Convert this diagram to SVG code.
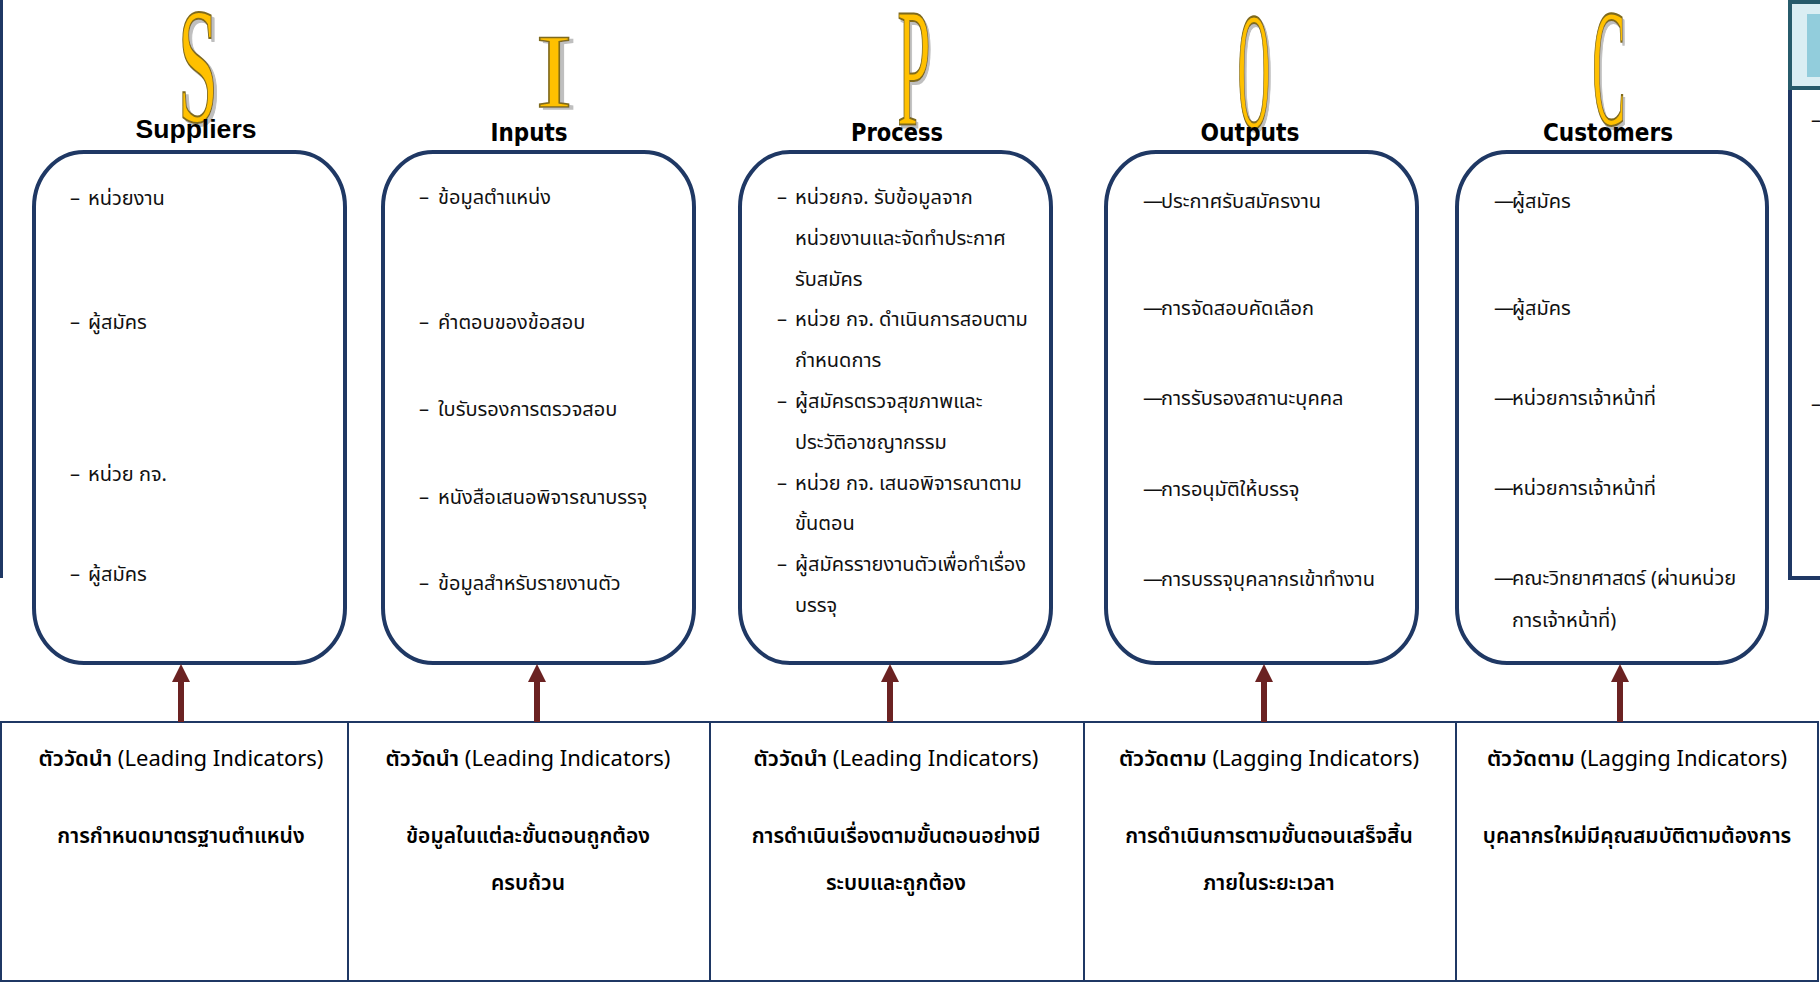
<svg xmlns="http://www.w3.org/2000/svg" width="1820" height="982" viewBox="0 0 1820 982">
<defs>
<style>
.big{font-family:"Liberation Serif","Times New Roman",serif;font-size:100px;fill:#FFC000;stroke:#7F6A1E;stroke-width:1.6px;vector-effect:non-scaling-stroke;text-anchor:middle;filter:url(#shadow)}
.hd{font-family:"DejaVu Sans","Liberation Sans",sans-serif;font-weight:bold;font-size:24px;fill:#000;text-anchor:middle}
.box{fill:#fff;stroke:#1F3864;stroke-width:4}
.it{font-family:"Noto Sans Thai","Tahoma","Noto Sans",sans-serif;font-size:20px;fill:#111}
.tb{fill:#fff;stroke:#1F3864;stroke-width:2}
.th{font-family:"Noto Sans Thai","Open Sans","Noto Sans",sans-serif;font-size:22px;fill:#000;text-anchor:middle}
.tk{font-weight:600}
.td{font-family:"Noto Sans Thai","Noto Sans",sans-serif;font-size:21px;fill:#000;text-anchor:middle;font-weight:600}
.arr{stroke:#6B2222;stroke-width:6;fill:none}
</style>
<filter id="shadow" x="-20%" y="-10%" width="160%" height="130%">
<feOffset in="SourceAlpha" dx="4" dy="2" result="o"/>
<feFlood flood-color="#BFBFBF"/>
<feComposite in2="o" operator="in" result="s"/>
<feMerge><feMergeNode in="s"/><feMergeNode in="SourceGraphic"/></feMerge>
</filter>
<marker id="ah" markerUnits="userSpaceOnUse" markerWidth="20" markerHeight="20" refX="0" refY="9" orient="auto">
<path d="M0,0 L18,9 L0,18 Z" fill="#6B2222"/>
</marker>
</defs>
<rect width="1820" height="982" fill="#fff"/>

<!-- left edge line -->
<rect x="0" y="0" width="3" height="578" fill="#1F3864"/>

<!-- right partial box -->
<g id="right-box">
<rect x="1790" y="2" width="40" height="576" fill="#fff" stroke="#1F3864" stroke-width="4"/>
<rect x="1790" y="2" width="40" height="86" fill="#DAEEF3" stroke="#275B6B" stroke-width="4"/>
<rect x="1807" y="14" width="20" height="63" fill="#92CDDC"/>
<text class="it" x="1811" y="127">–</text>
<text class="it" x="1811" y="411">–</text>
</g>

<!-- big letters -->
<g id="letters">
<text class="big" transform="translate(198,121) scale(0.72,1.66)">S</text>
<text class="big" transform="translate(554,107) scale(1.1,1.05)">I</text>
<text class="big" transform="translate(914,125) scale(0.6,1.7)">P</text>
<text class="big" transform="translate(1254,127) scale(0.45,1.68)">O</text>
<text class="big" transform="translate(1609,124) scale(0.5,1.68)">C</text>
</g>

<!-- Suppliers -->
<g id="suppliers">
<text class="hd" x="196" y="138" style="font-family:'Liberation Sans',Arial,sans-serif;font-size:26px" textLength="121" lengthAdjust="spacingAndGlyphs">Suppliers</text>
<rect class="box" x="34" y="152" width="311" height="511" rx="50" ry="55"/>
<text class="it" x="70" y="205">–</text><text class="it" x="88" y="205">หน่วยงาน</text>
<text class="it" x="70" y="329">–</text><text class="it" x="88" y="329">ผู้สมัคร</text>
<text class="it" x="70" y="481">–</text><text class="it" x="88" y="481">หน่วย กจ.</text>
<text class="it" x="70" y="581">–</text><text class="it" x="88" y="581">ผู้สมัคร</text>
</g>

<!-- Inputs -->
<g id="inputs">
<text class="hd" x="529" y="141" textLength="77" lengthAdjust="spacingAndGlyphs">Inputs</text>
<rect class="box" x="383" y="152" width="311" height="511" rx="50" ry="55"/>
<text class="it" x="419" y="204">–</text><text class="it" x="438" y="204">ข้อมูลตำแหน่ง</text>
<text class="it" x="419" y="329">–</text><text class="it" x="438" y="329">คำตอบของข้อสอบ</text>
<text class="it" x="419" y="416">–</text><text class="it" x="438" y="416">ใบรับรองการตรวจสอบ</text>
<text class="it" x="419" y="504">–</text><text class="it" x="438" y="504">หนังสือเสนอพิจารณาบรรจุ</text>
<text class="it" x="419" y="590">–</text><text class="it" x="438" y="590">ข้อมูลสำหรับรายงานตัว</text>
</g>

<!-- Process -->
<g id="process">
<text class="hd" x="897" y="141" textLength="92" lengthAdjust="spacingAndGlyphs">Process</text>
<rect class="box" x="740" y="152" width="311" height="511" rx="50" ry="55"/>
<text class="it" x="777" y="204">–</text><text class="it" x="795" y="204">หน่วยกจ. รับข้อมูลจาก</text>
<text class="it" x="795" y="245">หน่วยงานและจัดทำประกาศ</text>
<text class="it" x="795" y="286">รับสมัคร</text>
<text class="it" x="777" y="326">–</text><text class="it" x="795" y="326">หน่วย กจ. ดำเนินการสอบตาม</text>
<text class="it" x="795" y="367">กำหนดการ</text>
<text class="it" x="777" y="408">–</text><text class="it" x="795" y="408">ผู้สมัครตรวจสุขภาพและ</text>
<text class="it" x="795" y="449">ประวัติอาชญากรรม</text>
<text class="it" x="777" y="490">–</text><text class="it" x="795" y="490">หน่วย กจ. เสนอพิจารณาตาม</text>
<text class="it" x="795" y="530">ขั้นตอน</text>
<text class="it" x="777" y="571">–</text><text class="it" x="795" y="571">ผู้สมัครรายงานตัวเพื่อทำเรื่อง</text>
<text class="it" x="795" y="612">บรรจุ</text>
</g>

<!-- Outputs -->
<g id="outputs">
<text class="hd" x="1250" y="141" textLength="99" lengthAdjust="spacingAndGlyphs">Outputs</text>
<rect class="box" x="1106" y="152" width="311" height="511" rx="50" ry="55"/>
<text class="it" x="1143" y="208">—</text><text class="it" x="1161" y="208">ประกาศรับสมัครงาน</text>
<text class="it" x="1143" y="315">—</text><text class="it" x="1161" y="315">การจัดสอบคัดเลือก</text>
<text class="it" x="1143" y="405">—</text><text class="it" x="1161" y="405">การรับรองสถานะบุคคล</text>
<text class="it" x="1143" y="496">—</text><text class="it" x="1161" y="496">การอนุมัติให้บรรจุ</text>
<text class="it" x="1143" y="586">—</text><text class="it" x="1161" y="586">การบรรจุบุคลากรเข้าทำงาน</text>
</g>

<!-- Customers -->
<g id="customers">
<text class="hd" x="1608" y="141" textLength="130" lengthAdjust="spacingAndGlyphs">Customers</text>
<rect class="box" x="1457" y="152" width="310" height="511" rx="50" ry="55"/>
<text class="it" x="1494" y="208">—</text><text class="it" x="1512" y="208">ผู้สมัคร</text>
<text class="it" x="1494" y="315">—</text><text class="it" x="1512" y="315">ผู้สมัคร</text>
<text class="it" x="1494" y="405">—</text><text class="it" x="1512" y="405">หน่วยการเจ้าหน้าที่</text>
<text class="it" x="1494" y="495">—</text><text class="it" x="1512" y="495">หน่วยการเจ้าหน้าที่</text>
<text class="it" x="1494" y="585">—</text><text class="it" x="1512" y="585">คณะวิทยาศาสตร์ (ผ่านหน่วย</text>
<text class="it" x="1512" y="627">การเจ้าหน้าที่)</text>
</g>

<!-- indicator table -->
<g id="indicator-1">
<rect class="tb" x="1" y="722" width="347" height="259"/>
<text class="th" x="181" y="766"><tspan class="tk">ตัววัดนำ</tspan> (Leading Indicators)</text>
<text class="td" x="181" y="843">การกำหนดมาตรฐานตำแหน่ง</text>
</g>
<g id="indicator-2">
<rect class="tb" x="348" y="722" width="362" height="259"/>
<text class="th" x="528" y="766"><tspan class="tk">ตัววัดนำ</tspan> (Leading Indicators)</text>
<text class="td" x="528" y="843">ข้อมูลในแต่ละขั้นตอนถูกต้อง</text>
<text class="td" x="528" y="890">ครบถ้วน</text>
</g>
<g id="indicator-3">
<rect class="tb" x="710" y="722" width="374" height="259"/>
<text class="th" x="896" y="766"><tspan class="tk">ตัววัดนำ</tspan> (Leading Indicators)</text>
<text class="td" x="896" y="843">การดำเนินเรื่องตามขั้นตอนอย่างมี</text>
<text class="td" x="896" y="890">ระบบและถูกต้อง</text>
</g>
<g id="indicator-4">
<rect class="tb" x="1084" y="722" width="372" height="259"/>
<text class="th" x="1269" y="766"><tspan class="tk">ตัววัดตาม</tspan> (Lagging Indicators)</text>
<text class="td" x="1269" y="843">การดำเนินการตามขั้นตอนเสร็จสิ้น</text>
<text class="td" x="1269" y="890">ภายในระยะเวลา</text>
</g>
<g id="indicator-5">
<rect class="tb" x="1456" y="722" width="362" height="259"/>
<text class="th" x="1637" y="766"><tspan class="tk">ตัววัดตาม</tspan> (Lagging Indicators)</text>
<text class="td" x="1637" y="843">บุคลากรใหม่มีคุณสมบัติตามต้องการ</text>
</g>

<!-- connectors -->
<g id="connectors">
<line class="arr" x1="181" y1="722" x2="181" y2="682" marker-end="url(#ah)"/>
<line class="arr" x1="537" y1="722" x2="537" y2="682" marker-end="url(#ah)"/>
<line class="arr" x1="890" y1="722" x2="890" y2="682" marker-end="url(#ah)"/>
<line class="arr" x1="1264" y1="722" x2="1264" y2="682" marker-end="url(#ah)"/>
<line class="arr" x1="1620" y1="722" x2="1620" y2="682" marker-end="url(#ah)"/>
</g>
</svg>
